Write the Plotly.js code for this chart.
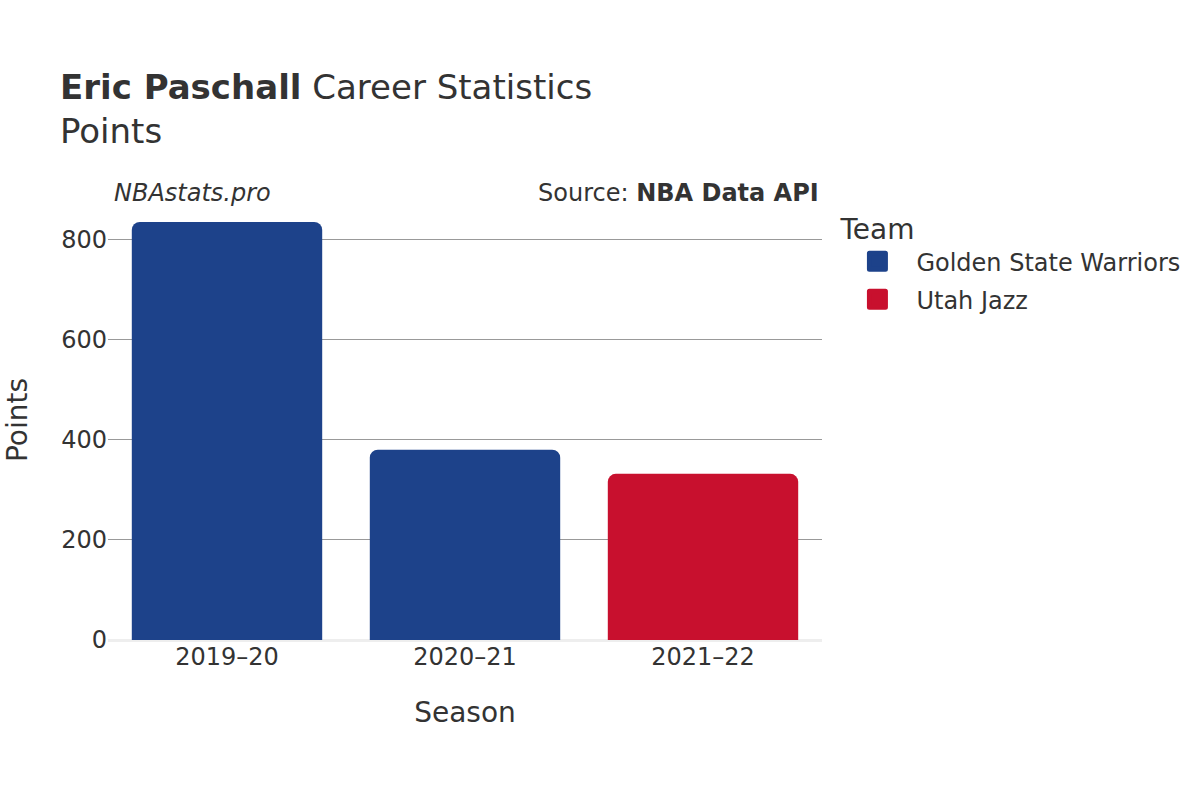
<!DOCTYPE html>
<html>
<head>
<meta charset="utf-8">
<script src="https://cdn.plot.ly/plotly-3.0.1.min.js"></script>
<style>
html,body{margin:0;padding:0;background:#fff;}
#chart{width:1200px;height:800px;}
.legend .scatterpts path, .legend .legendpoints path{stroke-linejoin:round;}
</style>
</head>
<body>
<div id="chart"></div>
<script>
const seasons = ["2019–20", "2020–21", "2021–22"];
const teams = ["Golden State Warriors", "Utah Jazz"];
const teamColors = ["#1d428a", "#c8102e"];
const gswSeasons = ["2019–20", "2020–21"];
const gswPoints = [835, 380];
const utaSeasons = ["2021–22"];
const utaPoints = [332];

const font = "DejaVu Sans, sans-serif";
const traces = [
  {type: "bar", name: teams[0], x: gswSeasons, y: gswPoints, marker: {color: teamColors[0]}, showlegend: false},
  {type: "bar", name: teams[1], x: utaSeasons, y: utaPoints, marker: {color: teamColors[1]}, showlegend: false}
];
teams.forEach((t, i) => {
  traces.push({
    type: "scatter", mode: "markers", name: t, x: [null], y: [null],
    legendgroup: "g" + i,
    marker: {symbol: "square", size: 16, color: teamColors[i], line: {color: teamColors[i], width: 5}},
    hoverinfo: "skip"
  });
});

const layout = {
  width: 1200, height: 800,
  font: {family: font, color: "#333333", size: 24},
  paper_bgcolor: "#ffffff", plot_bgcolor: "#ffffff",
  margin: {l: 108, r: 378, t: 200, b: 160},
  barmode: "overlay",
  bargap: 0.2,
  barcornerradius: 8,
  title: {
    text: "<b>Eric Paschall</b> Career Statistics<br>Points",
    x: 0.05, xanchor: "left", y: 0.876, yanchor: "top",
    font: {size: 34, family: font, color: "#333333"}
  },
  xaxis: {
    type: "category", categoryorder: "array", categoryarray: seasons,
    title: {text: "Season", font: {size: 28}, standoff: 32},
    tickfont: {size: 24},
    showgrid: false, zeroline: false, showline: false, ticks: ""
  },
  yaxis: {
    title: {text: "Points", font: {size: 28}, standoff: 25},
    tickfont: {size: 24},
    range: [0, 879],
    tickvals: [0, 200, 400, 600, 800],
    showgrid: true, gridcolor: "#999999", gridwidth: 1,
    zeroline: true, zerolinecolor: "#eeeeee", zerolinewidth: 3,
    ticks: ""
  },
  legend: {
    title: {text: "Team", font: {size: 28}},
    x: 1.023, xanchor: "left", y: 0.994, yanchor: "top",
    font: {size: 24}, itemsizing: "trace", itemwidth: 68,
    traceorder: "grouped", tracegroupgap: 4
  },
  annotations: [
    {text: "<i>NBAstats.pro</i>", xref: "paper", yref: "paper", x: 0.005, y: 1.0, xanchor: "left", yanchor: "bottom", yshift: -9, showarrow: false, font: {size: 24, color: "#333333"}},
    {text: "Source: <b>NBA Data API</b>", xref: "paper", yref: "paper", x: 0.9985, y: 1.0, xanchor: "right", yanchor: "bottom", yshift: -9, showarrow: false, font: {size: 24, color: "#333333"}}
  ],
  showlegend: true
};

Plotly.newPlot("chart", traces, layout, {displayModeBar: false, staticPlot: true});
</script>
</body>
</html>
